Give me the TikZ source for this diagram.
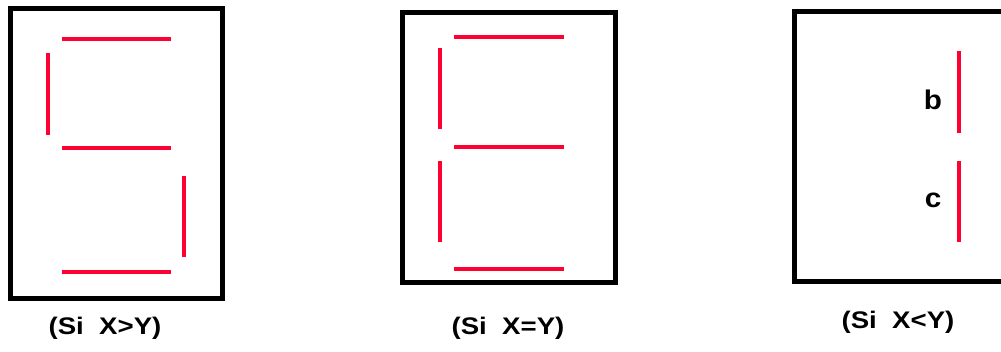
\documentclass[tikz,border=0pt]{standalone}
\usepackage{fontspec}
\setmainfont{Liberation Sans}
\usepackage{tikz}
\usetikzlibrary{positioning}
\definecolor{segred}{RGB}{255,0,51}

\tikzset{
  frame/.style={draw=black,line width=5pt},
  seg/.style={draw=segred,line width=4pt},
  caption/.style={font=\bfseries\fontsize{24}{26}\selectfont,xscale=1.15,inner sep=0pt},
  seglabel/.style={font=\bfseries\fontsize{27}{29}\selectfont,xscale=1.1,inner sep=0pt}
}

\begin{document}
\begin{tikzpicture}[x=1pt,y=1pt]
\useasboundingbox (0,0) rectangle (1001,352);
\clip (0,0) rectangle (1001,352);
% X > Y : digit 5
\draw[frame] (10,53) rectangle (222,343);
\draw[seg] (62,313)--(171,313);
\draw[seg] (48,299)--(48,217);
\draw[seg] (62,204)--(171,204);
\draw[seg] (184,176)--(184,95);
\draw[seg] (62,80)--(171,80);
\node[caption] (gt) at (105,24) {(Si\ \ X>Y)};
% X = Y : letter E
\draw[frame] (402.5,69) rectangle (615.5,339);
\draw[seg] (454,315)--(564,315);
\foreach \ya/\yb in {304/223,191/110} \draw[seg] (440,\ya)--(440,\yb);
\draw[seg] (454,205)--(564,205);
\draw[seg] (454,83)--(564,83);
\node[caption] (eq) at (508,24) {(Si\ \ X=Y)};
% X < Y : segments b and c
\draw[frame] (794.5,70.5) rectangle (1010,340.5);
\draw[seg] (959,301)--(959,219);
\draw[seg] (959,191)--(959,110);
\node[seglabel] (b) at (933,252) {b};
\node[seglabel] (c) at (933,152) {c};
\node[caption] (lt) at (898,30) {(Si\ \ X<Y)};
\end{tikzpicture}
\end{document}
